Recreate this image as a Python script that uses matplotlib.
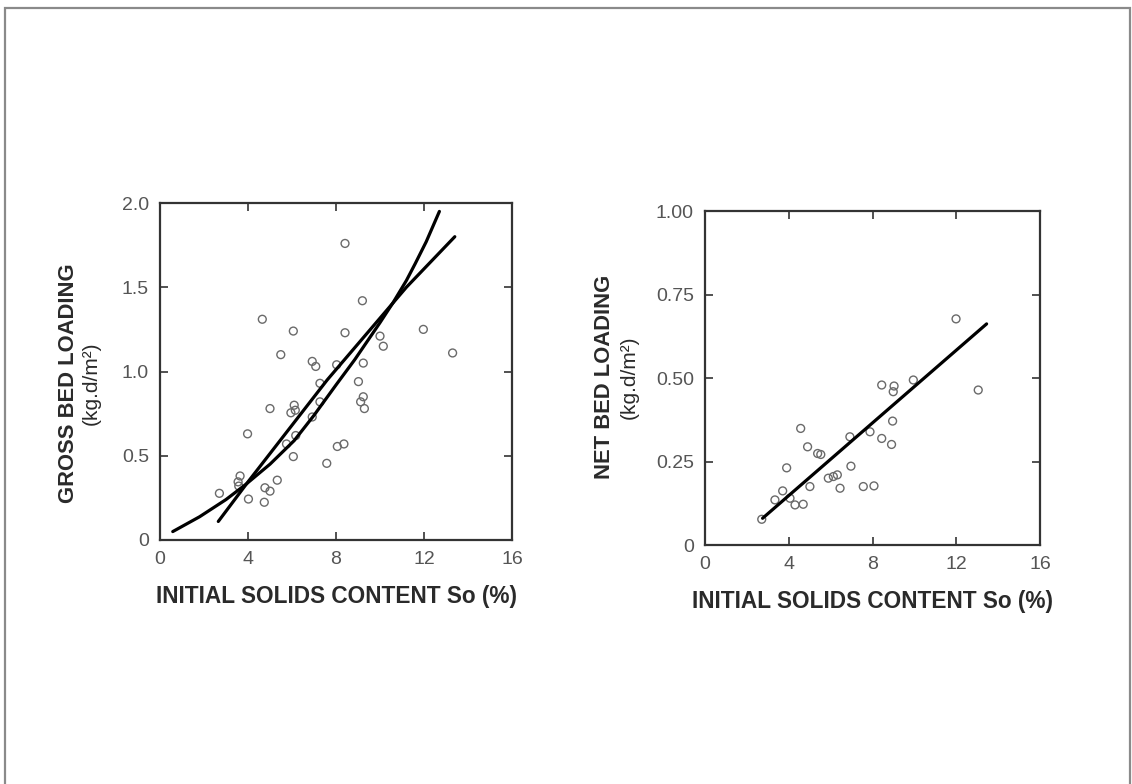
import matplotlib
matplotlib.use("Agg")
import matplotlib.pyplot as plt
from matplotlib.patches import Rectangle

plt.rcParams['font.family'] = ['Liberation Sans', 'DejaVu Sans']

# ---- Left panel: gross bed loading ----
gross_x = [8.41, 9.20, 4.65, 6.06, 8.41, 11.97, 13.30, 5.49, 10.15, 10.00,
           6.92, 7.08, 8.03, 9.24, 9.02, 7.27, 9.24, 9.12, 9.29, 5.00,
           6.10, 5.95, 6.15, 7.27, 6.92, 3.98, 6.17, 5.75, 6.06, 8.06,
           8.36, 7.58, 3.64, 3.55, 3.58, 5.33, 4.77, 5.00, 2.70, 4.02, 4.74]
gross_y = [1.76, 1.42, 1.31, 1.24, 1.23, 1.25, 1.11, 1.10, 1.15, 1.21,
           1.06, 1.03, 1.04, 1.05, 0.94, 0.93, 0.85, 0.82, 0.78, 0.78,
           0.80, 0.755, 0.77, 0.82, 0.73, 0.63, 0.62, 0.57, 0.495, 0.555,
           0.57, 0.455, 0.38, 0.345, 0.32, 0.355, 0.31, 0.29, 0.277, 0.243, 0.224]

# first fit line
gross_lin_x = [2.65, 4.0, 7.6, 11.2, 13.4]
gross_lin_y = [0.11, 0.345, 0.95, 1.50, 1.80]
# curved fit line
gross_curve_x = [0.58, 1.8, 3.0, 3.9, 5.0, 6.1, 7.0, 8.0, 8.85, 10.0, 10.6, 11.2, 11.6, 12.1, 12.7]
gross_curve_y = [0.05, 0.138, 0.24, 0.33, 0.45, 0.59, 0.74, 0.92, 1.07, 1.29, 1.41, 1.54, 1.64, 1.77, 1.95]

# ---- Right panel: net bed loading ----
net_x = [11.99, 13.05, 8.44, 9.03, 8.99, 9.95, 8.96, 7.88, 8.44, 8.91,
         6.92, 4.57, 4.90, 5.38, 5.53, 3.90, 6.97, 5.89, 6.13, 6.32,
         5.01, 6.45, 7.56, 8.07, 3.71, 3.34, 4.06, 4.30, 4.69, 2.71]
net_y = [0.677, 0.464, 0.479, 0.476, 0.459, 0.494, 0.371, 0.339, 0.319, 0.301,
         0.324, 0.349, 0.294, 0.274, 0.271, 0.231, 0.236, 0.200, 0.205, 0.210,
         0.175, 0.170, 0.175, 0.177, 0.162, 0.135, 0.140, 0.120, 0.122, 0.077]
net_lin_x = [2.75, 13.45]
net_lin_y = [0.08, 0.662]

x_ticks = [0, 4, 8, 12, 16]
x_labels = ["0", "4", "8", "12", "16"]
gross_ticks = [0, 0.5, 1.0, 1.5, 2.0]
gross_labels = ["0", "0.5", "1.0", "1.5", "2.0"]
net_ticks = [0, 0.25, 0.50, 0.75, 1.00]
net_labels = ["0", "0.25", "0.50", "0.75", "1.00"]

W, H = 1132, 784
fig = plt.figure(figsize=(W / 100, H / 100), dpi=100)
fig.patch.set_facecolor('white')

def px_box(l, t, r, b):
    return [l / W, 1 - b / H, (r - l) / W, (b - t) / H]

ax1 = fig.add_axes(px_box(160, 203, 512, 540))
ax2 = fig.add_axes(px_box(705, 211, 1040, 545))

tick_col = '#555555'
lab_col = '#2a2a2a'

def style(ax, yt, yl, ymax):
    ax.set_xlim(0, 16)
    ax.set_ylim(0, ymax)
    ax.set_xticks(x_ticks)
    ax.set_xticklabels(x_labels)
    ax.set_yticks(yt)
    ax.set_yticklabels(yl)
    ax.tick_params(direction='in', length=6, width=1.2, top=True, right=True,
                   labelsize=14, labelcolor=tick_col, color='#333333', pad=8)
    for s in ax.spines.values():
        s.set_linewidth(1.6)
        s.set_color('#333333')
    ax.set_xlabel("INITIAL SOLIDS CONTENT So (%)", fontsize=16.3, fontweight='bold',
                  color=lab_col, labelpad=12)

style(ax1, gross_ticks, gross_labels, 2.0)
style(ax2, net_ticks, net_labels, 1.0)

mk = dict(s=32, facecolors='none', edgecolors='#6a6a6a', linewidths=1.0, zorder=3)
ax1.scatter(gross_x, gross_y, **mk)
ax1.plot(gross_lin_x, gross_lin_y, color='black', lw=2.3, zorder=4,
         solid_capstyle='round', solid_joinstyle='round')
ax1.plot(gross_curve_x, gross_curve_y, color='black', lw=2.3, zorder=4,
         solid_capstyle='round', solid_joinstyle='round')

ax2.scatter(net_x, net_y, **mk)
ax2.plot(net_lin_x, net_lin_y, color='black', lw=2.3, zorder=4, solid_capstyle='round')

# y-axis labels (two lines)
def ylab(xc1, xc2, yc, text1):
    fig.text(xc1 / W, 1 - yc / H, text1, rotation=90, ha='center', va='center',
             fontsize=15.8, fontweight='bold', color=lab_col)
    fig.text(xc2 / W, 1 - yc / H, "(kg.d/m²)", rotation=90, ha='center', va='center',
             fontsize=15, color=lab_col)

ylab(68, 91, 383, "GROSS BED LOADING")
ylab(605, 629, 377, "NET BED LOADING")

# outer frame
fig.patches.append(Rectangle((5 / W, -0.02), 1125 / W, 1 - 8 / H + 0.02,
                             transform=fig.transFigure, fill=False,
                             edgecolor='#8a8a8a', linewidth=1.6))

fig.savefig("out.png", dpi=100, facecolor='white')
